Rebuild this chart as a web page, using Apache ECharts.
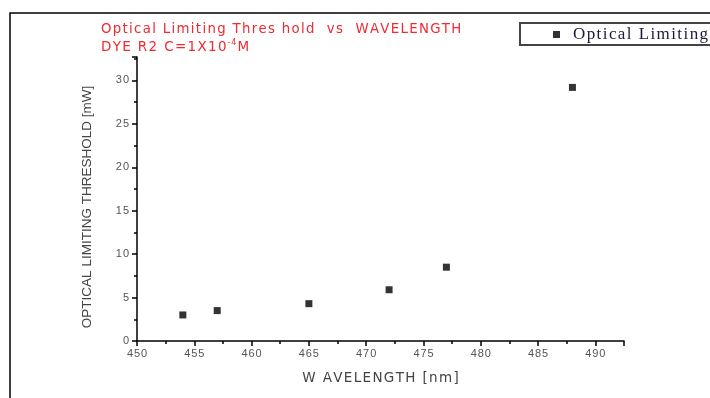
<!DOCTYPE html>
<html>
<head>
<meta charset="utf-8">
<script src="https://cdn.jsdelivr.net/npm/echarts@6/dist/echarts.min.js"></script>
<style>
  html, body { margin: 0; padding: 0; background: #fff; }
  #main { width: 710px; height: 398px; }
</style>
</head>
<body>
<div id="main"></div>
<script>
  const wavelengths = [454, 457, 465, 472, 477, 488]
  const thresholds = [3.0, 3.5, 4.3, 5.9, 8.5, 29.2]
  const seriesName = 'Optical Limiting'

  // the original plot has loose letter spacing, fake it with hair spaces
  const spaced = (s) => String(s).split('').join('\u200A')

  const chart = echarts.init(document.getElementById('main'))

  chart.setOption({
    backgroundColor: '#fff',
    animation: false,
    title: {
      left: 96,
      top: 18,
      itemGap: 3,
      text: spaced('Optical Limiting Thres hold  vs  WAVELENGTH'),
      subtext: spaced('DYE R2 C=1X10') + '{sup|' + spaced('-4') + '}' + 'M',
      textStyle: { color: '#ee2a33', fontSize: 13.3, fontWeight: 'normal', fontFamily: 'DejaVu Sans' },
      subtextStyle: {
        color: '#ee2a33',
        fontSize: 13.5,
        fontFamily: 'DejaVu Sans',
        rich: { sup: { color: '#ee2a33', fontSize: 8, fontFamily: 'DejaVu Sans', verticalAlign: 'top', padding: [0, 1, 8, 1] } },
      },
    },
    legend: {
      left: 520,
      top: 23,
      padding: [3, 40, 2, 33],
      borderColor: '#444',
      borderWidth: 2,
      itemWidth: 7,
      itemHeight: 7,
      icon: 'rect',
      formatter: (name) => spaced(name),
      textStyle: { color: '#1b1b3a', fontSize: 17, fontFamily: 'Liberation Serif', padding: [0, 0, 0, 8] },
      data: [seriesName],
    },
    graphic: [
      {
        type: 'polyline',
        shape: { points: [[10, 398], [10, 13], [710, 13]] },
        style: { stroke: '#000', lineWidth: 1.5, fill: null },
        silent: true,
      },
    ],
    grid: { left: 137, right: 86, top: 57, bottom: 57 },
    xAxis: {
      type: 'value',
      min: 450,
      max: 492.5,
      interval: 5,
      name: spaced('W AVELENGTH [nm]'),
      nameLocation: 'middle',
      nameGap: 30,
      nameTextStyle: { color: '#444', fontSize: 13.5, fontFamily: 'DejaVu Sans' },
      axisLine: { onZero: false, lineStyle: { color: '#000', width: 1.5 } },
      axisTick: { length: 5, lineStyle: { color: '#000', width: 1.5 } },
      minorTick: { show: true, splitNumber: 2, length: 3, lineStyle: { color: '#000', width: 1.5 } },
      axisLabel: {
        color: '#555',
        fontSize: 11,
        fontFamily: 'Liberation Sans',
        margin: 7,
        formatter: (v) => (v % 5 === 0 ? spaced(v) : ''),
      },
      splitLine: { show: false },
    },
    yAxis: {
      type: 'value',
      min: 0,
      max: 32.7,
      interval: 5,
      name: 'OPTICAL LIMITING THRESHOLD [mW]',
      nameLocation: 'middle',
      nameGap: 43,
      nameTextStyle: { color: '#444', fontSize: 13.5, fontFamily: 'Liberation Sans', padding: [0, 16, 0, 0] },
      axisLine: { lineStyle: { color: '#000', width: 1.5 } },
      axisTick: { length: 5, lineStyle: { color: '#000', width: 1.5 } },
      minorTick: { show: true, splitNumber: 2, length: 3, lineStyle: { color: '#000', width: 1.5 } },
      axisLabel: {
        color: '#555',
        fontSize: 11,
        fontFamily: 'Liberation Sans',
        margin: 8,
        showMaxLabel: false,
        formatter: (v) => (v % 5 === 0 ? spaced(v) : ''),
      },
      splitLine: { show: false },
    },
    series: [
      {
        name: seriesName,
        type: 'scatter',
        symbol: 'rect',
        symbolSize: 7,
        itemStyle: { color: '#000' },
        data: wavelengths.map((w, i) => [w, thresholds[i]]),
      },
    ],
  })
</script>
</body>
</html>
